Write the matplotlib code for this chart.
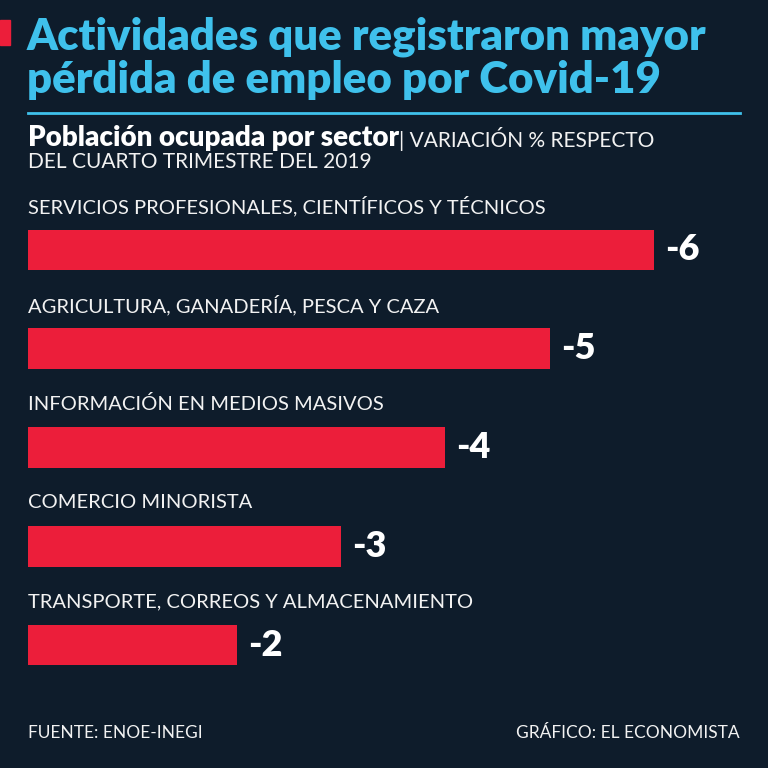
import matplotlib.pyplot as plt
from matplotlib.patches import Rectangle

sectores = [
    "SERVICIOS PROFESIONALES, CIENTÍFICOS Y TÉCNICOS",
    "AGRICULTURA, GANADERÍA, PESCA Y CAZA",
    "INFORMACIÓN EN MEDIOS MASIVOS",
    "COMERCIO MINORISTA",
    "TRANSPORTE, CORREOS Y ALMACENAMIENTO",
]
variacion = [-6, -5, -4, -3, -2]

fondo = "#0e1c2b"
rojo = "#ec1e3a"
cian = "#3fc1ec"
blanco = "#f2f2f2"

plt.rcParams['font.family'] = ['Lato', 'DejaVu Sans']

W = H = 768
fig = plt.figure(figsize=(7.68, 7.68), dpi=100, facecolor=fondo)

def px(x, y):
    return x / W, 1 - y / H

# acento rojo
fig.patches.append(Rectangle((0, 1 - 45 / H), 10 / W, 25 / H, transform=fig.transFigure,
                             color=rojo, zorder=3))

# titulo
fig.text(*px(27, 37), "Actividades que registraron mayor", color=cian, fontsize=31.5,
         fontweight='heavy', va='center', ha='left')
fig.text(*px(27, 80), "pérdida de empleo por Covid-19", color=cian, fontsize=31.5,
         fontweight='heavy', va='center', ha='left')
fig.add_artist(plt.Line2D([28 / W, 740 / W], [1 - 113 / H, 1 - 113 / H], color=cian, lw=2))

# subtitulo
t = fig.text(*px(28, 138), "Población ocupada por sector", color="white", fontsize=20,
             fontweight='heavy', va='center', ha='left')
fig.canvas.draw()
bb = t.get_window_extent()
fig.text(bb.x1 / W, 1 - 139 / H, "| VARIACIÓN % RESPECTO", color=blanco, fontsize=15,
         va='center', ha='left')
fig.text(*px(28, 162), "DEL CUARTO TRIMESTRE DEL 2019", color=blanco, fontsize=15,
         va='center', ha='left')

# barras
ax = fig.add_axes([28 / W, 1 - 694.5 / H, (654 - 28) / W, (694.5 - 200.5) / H])
ax.set_facecolor(fondo)
pos = list(range(len(sectores)))
ax.barh(pos, [-v for v in variacion], height=0.41, color=rojo)
ax.set_xlim(0, 6)
ax.set_ylim(len(sectores) - 0.5, -0.5)
ax.axis('off')

for i, (s, v) in enumerate(zip(sectores, variacion)):
    ax.text(0, i - 0.44, s, color=blanco, fontsize=14.5,
            va='center', ha='left')
    ax.annotate(f"{v}", (-v, i), xytext=(8, 0), textcoords='offset points',
                color="white", fontsize=26, fontweight='heavy',
                va='center', ha='left')

fig.text(*px(28, 733), "FUENTE: ENOE-INEGI", color=blanco, fontsize=12.5,
         va='center', ha='left')
fig.text(*px(740, 733), "GRÁFICO: EL ECONOMISTA", color=blanco, fontsize=12.5,
         va='center', ha='right')

fig.savefig("out.png", dpi=100, facecolor=fondo)
